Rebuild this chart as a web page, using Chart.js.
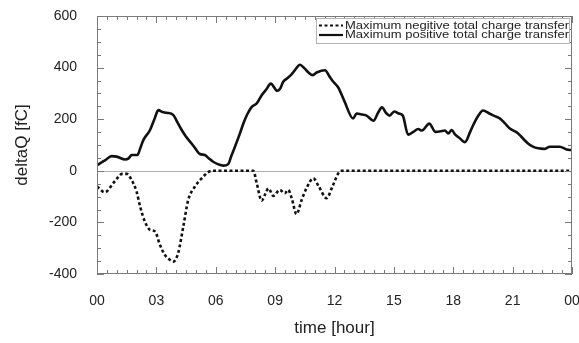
<!DOCTYPE html>
<html>
<head>
<meta charset="utf-8">
<script src="https://cdn.jsdelivr.net/npm/chart.js@4.4.1/dist/chart.umd.min.js"></script>
<style>
html,body{margin:0;padding:0;background:#fff;}
#wrap{width:579px;height:343px;position:relative;}
</style>
</head>
<body>
<div id="wrap"><canvas id="c" width="579" height="343"></canvas></div>
<script>
// Time in hours since 00
const posHours = [0,0.4,0.74,1.0,1.42,1.6,1.75,2.04,2.2,2.34,2.68,2.9,3.1,3.3,3.52,3.86,4.05,4.28,4.5,4.78,5.0,5.2,5.45,5.65,5.87,6.1,6.38,6.63,6.8,6.97,7.2,7.4,7.6,7.82,8.07,8.32,8.55,8.78,9.11,9.25,9.41,9.6,9.83,10.0,10.25,10.5,10.7,10.9,11.1,11.52,11.75,11.94,12.19,12.5,12.94,13.12,13.4,13.62,13.97,14.2,14.4,14.6,14.78,15.02,15.25,15.45,15.72,15.98,16.23,16.42,16.79,17.1,17.35,17.58,17.75,17.92,18.1,18.33,18.59,18.85,19.05,19.28,19.5,19.85,20.1,20.35,20.6,20.86,21.28,21.5,21.78,22.0,22.3,22.6,22.88,23.38,23.72,24];
const posValues = [22,40,57,55,44,48,61,61,90,119,158,200,235,228,225,216,190,158,132,106,83,65,61,48,35,26,20,26,60,93,140,184,220,248,261,293,315,338,310,318,345,358,374,390,411,396,380,371,381,390,365,345,323,270,203,222,218,214,194,225,246,225,214,230,222,214,140,151,162,156,183,151,153,156,145,158,140,126,111,150,184,215,234,221,212,203,185,164,145,127,106,95,87,85,93,93,83,80];
const negHours = [0,0.4,0.82,1.1,1.25,1.5,1.75,2.0,2.18,2.42,2.68,2.93,3.18,3.43,3.65,3.85,4.1,4.36,4.61,4.95,5.29,5.6,5.8,7.9,8.07,8.32,8.5,8.66,8.91,9.24,9.49,9.66,9.85,10.08,10.34,10.6,10.93,11.2,11.6,11.9,12.19,12.36,24];
const negValues = [-61,-83,-48,-22,-12,-12,-36,-81,-139,-197,-229,-235,-287,-326,-343,-352,-319,-216,-113,-61,-29,-6,0,0,-48,-116,-90,-68,-97,-74,-87,-74,-110,-168,-113,-65,-29,-60,-106,-60,-10,0,0];
const xTickLabels = ["00","03","06","09","12","15","18","21","00"];
const seriesNames = ["Maximum negitive total charge transfer","Maximum positive total charge transfer"];
const xTitle = "time [hour]";
const yTitle = "deltaQ [fC]";

const FONT = "'Liberation Sans', Arial, Helvetica, sans-serif";
const toPts = (xs, ys) => xs.map((x, i) => ({x, y: ys[i]}));

const framePlugin = {
  id: 'frame',
  beforeDatasetsDraw(chart) {
    const {ctx, chartArea: a, scales: {x, y}} = chart;
    ctx.save();
    ctx.strokeStyle = '#b0b0b0';
    ctx.lineWidth = 1;
    const y0 = Math.round(y.getPixelForValue(0)) + 0.5;
    ctx.beginPath(); ctx.moveTo(a.left, y0); ctx.lineTo(a.right, y0); ctx.stroke();
    ctx.restore();
  },
  afterDraw(chart) {
    const {ctx, chartArea: a, scales: {x, y}} = chart;
    ctx.save();
    ctx.strokeStyle = '#7a7a7a';
    ctx.lineWidth = 1;
    ctx.strokeRect(a.left + 0.5, a.top + 0.5, a.right - a.left - 1, a.bottom - a.top - 1);
    ctx.beginPath();
    for (let h = 0; h <= 24; h += 0.5) {
      const px = Math.round(x.getPixelForValue(h)) + 0.5;
      const len = (h % 3 === 0) ? 7 : 4;
      ctx.moveTo(px, a.bottom); ctx.lineTo(px, a.bottom - len);
      ctx.moveTo(px, a.top); ctx.lineTo(px, a.top + len);
    }
    for (let v = -400; v <= 600; v += 50) {
      const py = Math.round(y.getPixelForValue(v)) + 0.5;
      const len = (v % 200 === 0) ? 7 : 4;
      ctx.moveTo(a.left, py); ctx.lineTo(a.left + len, py);
      ctx.moveTo(a.right, py); ctx.lineTo(a.right - len, py);
    }
    ctx.stroke();
    // legend
    const bx = 316, by = a.top + 2, bw = a.right - 3 - bx, bh = 25;
    ctx.fillStyle = '#fff';
    ctx.fillRect(bx, by, bw, bh);
    ctx.strokeStyle = '#b5b5b5';
    ctx.strokeRect(bx + 0.5, by + 0.5, bw, bh);
    const rows = [by + 7.5, by + 17];
    const styles = [[3, 2.5], []];
    for (let i = 0; i < 2; i++) {
      ctx.strokeStyle = '#111';
      ctx.lineWidth = 2.2;
      ctx.setLineDash(styles[i]);
      ctx.beginPath(); ctx.moveTo(bx + 3, rows[i]); ctx.lineTo(bx + 27, rows[i]); ctx.stroke();
      ctx.setLineDash([]);
      ctx.fillStyle = '#222';
      ctx.font = '11.5px ' + FONT;
      ctx.textBaseline = 'middle';
      const w = ctx.measureText(seriesNames[i]).width;
      const target = 224;
      ctx.save();
      ctx.translate(bx + 29, rows[i]);
      ctx.scale(target / w, 1);
      ctx.fillText(seriesNames[i], 0, 0);
      ctx.restore();
    }
    ctx.restore();
  }
};

new Chart(document.getElementById('c'), {
  type: 'line',
  data: {
    datasets: [
      {label: seriesNames[0], data: toPts(negHours, negValues), borderColor: '#111', borderWidth: 2.6, borderDash: [3, 2.5], pointRadius: 0, cubicInterpolationMode: 'monotone', fill: false},
      {label: seriesNames[1], data: toPts(posHours, posValues), borderColor: '#111', borderWidth: 2.6, pointRadius: 0, cubicInterpolationMode: 'monotone', fill: false}
    ]
  },
  options: {
    responsive: false,
    animation: false,
    layout: {padding: {left: 0, right: 7, top: 16, bottom: 0}},
    plugins: {legend: {display: false}, tooltip: {enabled: false}},
    scales: {
      x: {
        type: 'linear', min: 0, max: 24,
        grid: {display: false, drawTicks: false},
        border: {display: false},
        ticks: {
          stepSize: 3, padding: 19, color: '#222', autoSkip: false, maxRotation: 0,
          font: {family: FONT, size: 14},
          callback: (v) => xTickLabels[Math.round(v / 3)]
        },
        title: {display: true, text: xTitle, color: '#222', font: {family: FONT, size: 17}, padding: {top: 0, bottom: 4}},
        afterFit: (s) => { s.height = 69; s.paddingLeft = 0; s.paddingRight = 0; }
      },
      y: {
        min: -400, max: 600,
        grid: {display: false, drawTicks: false},
        border: {display: false},
        ticks: {stepSize: 200, padding: 20, color: '#222', font: {family: FONT, size: 14}},
        title: {display: true, text: yTitle, color: '#222', font: {family: FONT, size: 17}, padding: {top: 12, bottom: 0}},
        afterFit: (s) => { s.width = 97; s.paddingTop = 0; s.paddingBottom = 0; }
      }
    }
  },
  plugins: [framePlugin]
});
</script>
</body>
</html>
